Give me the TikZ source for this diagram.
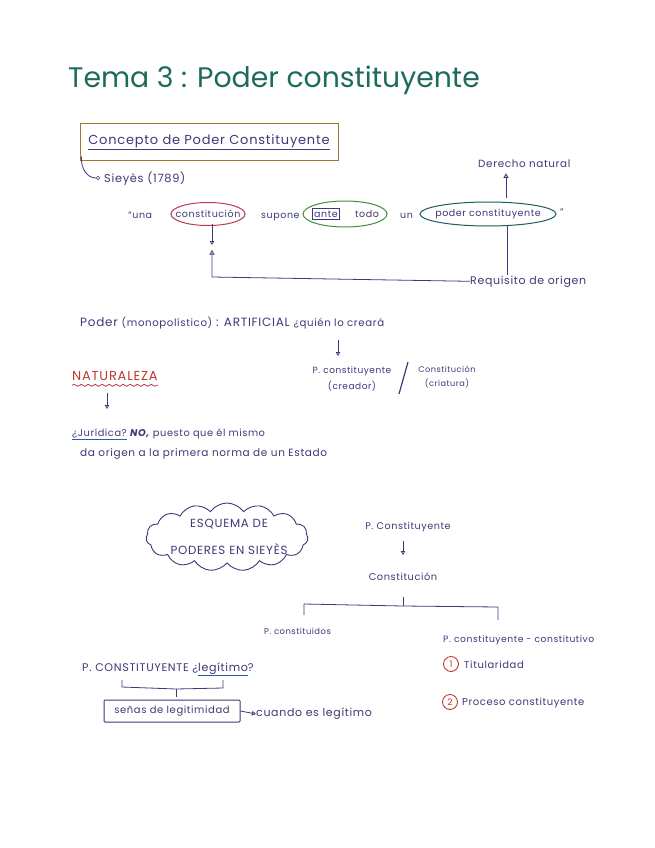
\documentclass[tikz,border=0pt]{standalone}
\usepackage{fontspec}
\setmainfont{Poppins}[LetterSpace=6]
\newfontfamily\titlefont{Poppins}
\usetikzlibrary{arrows.meta,shapes.symbols,shapes.geometric,decorations.pathmorphing,calc,fit}
\definecolor{ink}{HTML}{3C3A78}
\definecolor{titlecol}{HTML}{1D6B5C}
\definecolor{boxcol}{HTML}{9A7A2E}
\definecolor{crimson}{HTML}{C0394F}
\definecolor{grn}{HTML}{3F8F3A}
\definecolor{tealc}{HTML}{1D5C5C}
\definecolor{redc}{HTML}{C0392B}
\definecolor{bluec}{HTML}{2A5DB0}
\newcommand{\fs}[1]{\fontsize{#1}{#1}\selectfont}
\tikzset{
  txt/.style={inner sep=0pt, text=ink, font=\fs{9.5}},
  ln/.style={draw=ink, line width=0.8pt},
  oarrow/.style={ln, -{Triangle[open,length=4.5pt,width=5pt]}},
  sarrow/.style={ln, -{Triangle[open,length=4pt,width=4.5pt]}},
}
\begin{document}
\begin{tikzpicture}[x=1pt,y=-1pt]
\useasboundingbox[fill=white] (0,0) rectangle (655,848);
% title
\node[anchor=base west, inner sep=0pt, text=titlecol, font=\titlefont\fs{28.3}] (title) at (68,88) {Tema 3 : Poder constituyente};
% concept box
\node[draw=boxcol, line width=1pt, minimum width=258, minimum height=36, inner sep=0pt, text=ink, font=\fs{13}] (concept) at (209,142) {\underline{Concepto de Poder Constituyente}};
\node[circle, draw=ink, minimum size=3.5pt, inner sep=0pt] (dot) at (98,178) {};
\node[txt, anchor=west, font=\fs{11.4}] (sieyes) at (104,179) {Sieyès (1789)};
\draw[ln] (concept.south west) ++(2,-4) to[out=-95,in=180] (dot.west);
% quote line
\node[txt, anchor=base west] (q1) at (128,218) {“una};
\node[txt] (constit) at (208,214) {constitución};
\draw[crimson, line width=1pt] (constit) ellipse [x radius=37, y radius=11.5];
\node[txt, anchor=base west] (supone) at (261,218) {supone};
\node[txt, draw=ink, line width=0.8pt, inner sep=2pt] (ante) at (326,214) {ante};
\node[txt] (todo) at (367,214) {todo};
\coordinate (atc) at (345,214);
\draw[grn, line width=1pt] (atc) ellipse [x radius=42, y radius=13];
\node[txt, anchor=base west] (un) at (400,218) {un};
\node[txt] (poderc) at (488,214) {poder constituyente};
\draw[tealc, line width=1pt] (poderc) ellipse [x radius=68, y radius=12];
\node[txt] (q2) at (562,212) {”};
% Derecho natural
\node[txt, anchor=base west, font=\fs{10.4}] (dn) at (478,167) {Derecho natural};
\coordinate (dn1) at (506,198);
\draw[oarrow] (dn1) -- ($(dn1 |- dn.south)+(0,6)$);
% Requisito de origen
\node[txt, anchor=base west, font=\fs{11}] (req) at (470,284) {Requisito de origen};
\coordinate (pl) at (507,226);
\draw[ln] (pl) -- (pl |- req.north);
\coordinate (c1) at (212,245);
\draw[sarrow] (constit.south -| c1) ++(0,6) -- (c1);
\coordinate (c2) at (212,277);
\coordinate (c3) at (212,250);
\draw[oarrow] (req.west) -- (c2) -- (c3);
% Poder monopolistico
\node[txt, anchor=base west, font=\fs{12}] (poder) at (80,326) {Poder {\fs{10.2}(monopolístico)} : ARTIFICIAL {\fs{10.2}¿quién lo creará}};
\coordinate (a1) at (338,340);
\coordinate (a2) at (338,356);
\draw[sarrow] (a1) -- (a2);
\node[txt, align=center, font=\fs{9}, inner sep=0pt] (pcreador) at (352,379) {P. constituyente\\[5pt](creador)};
\node[txt, align=center, font=\fs{8.2}, inner sep=0pt] (constcriat) at (447,377) {Constitución\\[5pt](criatura)};
\draw[ln, line width=1.2pt] (399,394) -- (408,362);
% Naturaleza
\node[txt, anchor=base west, text=redc, font=\fs{13}] (nat) at (72,380) {NATURALEZA};
\draw[draw=crimson, line width=0.8pt, decorate, decoration={snake, amplitude=1pt, segment length=7pt}] (nat.south west) ++(0,5) -- ($(nat.south east)+(0,5)$);
\coordinate (n1) at (107,393);
\coordinate (n2) at (107,409);
\draw[sarrow] (n1) -- (n2);
\node[txt, anchor=base west, font=\fs{9.8}] (jur) at (72,436) {\textcolor{bluec}{\underline{\textcolor{ink}{¿Jurídica?}}} \textbf{\textit{NO,}} puesto que él mismo};
\node[txt, anchor=base west, font=\fs{10.5}] (jur2) at (80,456) {da origen a la primera norma de un Estado};
% cloud
\node[cloud, draw=ink, line width=0.9pt, cloud puffs=15, cloud puff arc=110, aspect=2.5, minimum width=162, minimum height=68, inner sep=0pt] (cloud) at (227,537) {};
\node[txt, align=center, font=\fs{11.8}] (cloudtxt) at (229,537) {ESQUEMA DE\\[13pt]PODERES EN SIEYÈS};
% scheme
\node[txt, font=\fs{9.6}] (pc2) at (408,527) {P. Constituyente};
\node[txt, font=\fs{9.8}] (const2) at (403,577) {Constitución};
\coordinate (s1) at (403,541);
\coordinate (s2) at (403,555);
\draw[sarrow] (s1) -- (s2);
\coordinate (b0) at (403,597);
\coordinate (bm) at (403,606);
\coordinate (bl) at (304,604);
\coordinate (blb) at (304,615);
\coordinate (br) at (498,607);
\coordinate (brb) at (498,620);
\draw[ln] (b0) -- (bm);
\draw[ln] (blb) -- (bl) -- (bm) -- (br) -- (brb);
\node[txt, anchor=base west, font=\fs{8.4}] (pconst) at (264,634) {P. constituidos};
\node[txt, anchor=base west, font=\fs{9.2}] (pcc) at (443,642) {P. constituyente - constitutivo};
\node[circle, draw=redc, line width=0.9pt, minimum size=15, inner sep=0pt, text=redc, font=\fs{9}] (n1c) at (451,664) {1};
\node[txt, anchor=west, font=\fs{10}] (tit) at (464,665) {Titularidad};
\node[circle, draw=redc, line width=0.9pt, minimum size=15, inner sep=0pt, text=redc, font=\fs{9}] (n2c) at (450,702) {2};
\node[txt, anchor=west, font=\fs{10}] (proc) at (462,703) {Proceso constituyente};
% legitimacy
\node[txt, anchor=base west, font=\fs{11.1}] (pcl) at (82,671) {P. CONSTITUYENTE ¿\textcolor{bluec}{\underline{\textcolor{ink}{legítimo}}}?};
\coordinate (br1) at (122,680);
\coordinate (br2) at (223,680);
\coordinate (brm) at (176,689);
\coordinate (brt) at (176,697);
\draw[ln] (br1) -- (122,687) -- (brm) -- (223,688) -- (br2);
\draw[ln] (brm) -- (brt);
\node[txt, draw=ink, line width=1pt, rounded corners=1pt, minimum width=136, minimum height=22, inner sep=0pt, font=\fs{10}] (senas) at (172,711) {señas de legitimidad};
\node[txt, anchor=west, font=\fs{11}] (cuando) at (256,714) {cuando es legítimo};
\draw[sarrow] (senas.east) -- (cuando.west);
\end{tikzpicture}
\end{document}
